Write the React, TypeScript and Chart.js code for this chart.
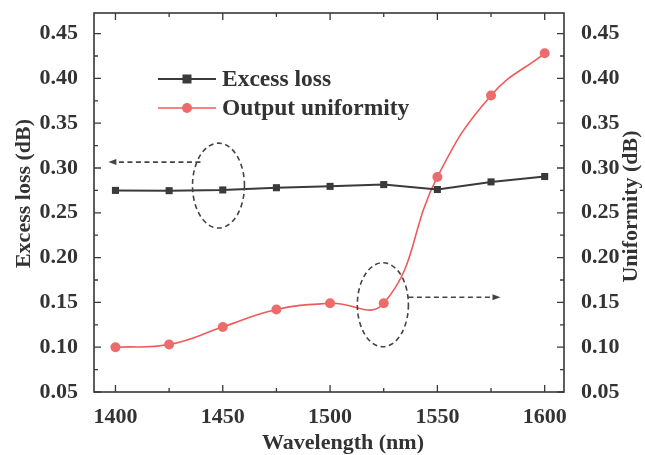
import React, { useEffect, useRef } from "react";
import { Chart, registerables } from "chart.js";

Chart.register(...registerables);

const wavelengths = [1400, 1425, 1450, 1475, 1500, 1525, 1550, 1575, 1600];
const excessLoss = [0.275, 0.2747, 0.2755, 0.278, 0.2795, 0.2815, 0.276, 0.2845, 0.2905];
const uniformity = [0.1, 0.103, 0.1225, 0.142, 0.149, 0.149, 0.29, 0.381, 0.428];

const xMajorTicks = [1400, 1450, 1500, 1550, 1600];
const xMinorTicks = [1425, 1475, 1525, 1575];
const yMajorTicks = [0.05, 0.1, 0.15, 0.2, 0.25, 0.3, 0.35, 0.4, 0.45];
const yMinorTicks = [0.075, 0.125, 0.175, 0.225, 0.275, 0.325, 0.375, 0.425];

const seriesNames = ["Excess loss", "Output uniformity"];
const axisTitles = { x: "Wavelength (nm)", left: "Excess loss (dB)", right: "Uniformity (dB)" };

// annotation ellipses: [centerX, centerY, radiusX (nm), radiusY (dB)]
const ellipseLeft = [1448, 0.2804, 12.1, 0.0474];
const ellipseRight = [1524.6, 0.1474, 11.9, 0.0469];
// arrows: [fromX, toX, y]
const arrowLeft = [1439.6, 1396.7, 0.3066];
const arrowRight = [1536.5, 1579.4, 0.1557];

const BLACK = "#3a3a3a";
const RED = "#f05a5a";
const RED_FILL = "#ec6b6b";
const TEXT = "#333333";
const FAMILY = "'Liberation Serif', 'Times New Roman', serif";
const FONT = "bold 22px " + FAMILY;
const LEGEND_FONT = "bold 23.5px " + FAMILY;

const overlay = {
  id: "overlay",
  afterDatasetsDraw(chart: any) {
    const { ctx, chartArea: a, scales } = chart;
    const xs = scales.x;
    const ys = scales.y;
    ctx.save();
    // frame
    ctx.strokeStyle = "#383838";
    ctx.lineWidth = 1.6;
    ctx.setLineDash([]);
    ctx.strokeRect(a.left, a.top, a.right - a.left, a.bottom - a.top);
    // inside ticks
    ctx.lineWidth = 1.3;
    const tick = (vals: number[], len: number, isX: boolean) => {
      vals.forEach((v) => {
        ctx.beginPath();
        if (isX) {
          const px = xs.getPixelForValue(v);
          ctx.moveTo(px, a.bottom);
          ctx.lineTo(px, a.bottom - len);
          ctx.moveTo(px, a.top);
          ctx.lineTo(px, a.top + len);
        } else {
          const py = ys.getPixelForValue(v);
          ctx.moveTo(a.left, py);
          ctx.lineTo(a.left + len, py);
          ctx.moveTo(a.right, py);
          ctx.lineTo(a.right - len, py);
        }
        ctx.stroke();
      });
    };
    tick(xMajorTicks, 7, true);
    tick(xMinorTicks, 4, true);
    tick(yMajorTicks, 7, false);
    tick(yMinorTicks, 4, false);

    // ellipses and arrows
    ctx.strokeStyle = "#444";
    ctx.lineWidth = 1.6;
    ctx.setLineDash([5, 3.5]);
    const ell = (e: number[]) => {
      const cx = xs.getPixelForValue(e[0]);
      const cy = ys.getPixelForValue(e[1]);
      const rx = Math.abs(xs.getPixelForValue(e[0] + e[2]) - cx);
      const ry = Math.abs(ys.getPixelForValue(e[1] + e[3]) - cy);
      ctx.beginPath();
      ctx.ellipse(cx, cy, rx, ry, 0, 0, Math.PI * 2);
      ctx.stroke();
    };
    ell(ellipseLeft);
    ell(ellipseRight);
    const arrow = (ar: number[]) => {
      const x1 = xs.getPixelForValue(ar[0]);
      const x2 = xs.getPixelForValue(ar[1]);
      const y = ys.getPixelForValue(ar[2]);
      const dir = Math.sign(x2 - x1);
      ctx.setLineDash([5, 3.5]);
      ctx.beginPath();
      ctx.moveTo(x1, y);
      ctx.lineTo(x2 - dir * 4, y);
      ctx.stroke();
      ctx.setLineDash([]);
      ctx.fillStyle = "#444";
      ctx.beginPath();
      ctx.moveTo(x2, y);
      ctx.lineTo(x2 - dir * 8, y - 3);
      ctx.lineTo(x2 - dir * 8, y + 3);
      ctx.closePath();
      ctx.fill();
    };
    arrow(arrowLeft);
    arrow(arrowRight);

    // legend
    ctx.setLineDash([]);
    const lx1 = a.left + 64;
    const lx2 = a.left + 122;
    const rows = [a.top + 66, a.top + 95];
    ctx.font = LEGEND_FONT;
    ctx.textBaseline = "middle";
    ctx.textAlign = "left";
    rows.forEach((ry, i) => {
      ctx.strokeStyle = i === 0 ? BLACK : RED;
      ctx.lineWidth = i === 0 ? 2 : 1.6;
      ctx.beginPath();
      ctx.moveTo(lx1, ry);
      ctx.lineTo(lx2, ry);
      ctx.stroke();
      const mx = (lx1 + lx2) / 2;
      if (i === 0) {
        ctx.fillStyle = BLACK;
        ctx.fillRect(mx - 4.5, ry - 4.5, 9, 9);
      } else {
        ctx.fillStyle = RED_FILL;
        ctx.beginPath();
        ctx.arc(mx, ry, 5, 0, Math.PI * 2);
        ctx.fill();
      }
      ctx.fillStyle = TEXT;
      ctx.fillText(seriesNames[i], lx2 + 6, ry + 1);
    });

    // axis titles
    ctx.fillStyle = TEXT;
    ctx.font = FONT;
    ctx.textAlign = "center";
    ctx.textBaseline = "middle";
    ctx.fillText(axisTitles.x, (a.left + a.right) / 2 + 14, a.bottom + 51);
    ctx.save();
    ctx.translate(24, (a.top + a.bottom) / 2 - 9);
    ctx.rotate(-Math.PI / 2);
    ctx.fillText(axisTitles.left, 0, 0);
    ctx.restore();
    ctx.save();
    ctx.translate(a.right + 67, (a.top + a.bottom) / 2 + 4);
    ctx.rotate(-Math.PI / 2);
    ctx.fillText(axisTitles.right, 0, 0);
    ctx.restore();
    ctx.restore();
  },
};

const noPad = (s: any) => {
  s.paddingTop = 0;
  s.paddingBottom = 0;
  s.paddingLeft = 0;
  s.paddingRight = 0;
};

export default function App() {
  const ref = useRef<HTMLCanvasElement | null>(null);
  useEffect(() => {
    if (!ref.current) return;
    const tickFont = { family: FAMILY, size: 22, weight: "bold" as const };
    const chart = new Chart(ref.current, {
      type: "line",
      data: {
        datasets: [
          {
            label: seriesNames[0],
            data: wavelengths.map((w, i) => ({ x: w, y: excessLoss[i] })),
            borderColor: BLACK,
            backgroundColor: BLACK,
            borderWidth: 2,
            pointStyle: "rect",
            pointRadius: 5,
            pointBorderWidth: 0,
            tension: 0,
            yAxisID: "y",
          },
          {
            label: seriesNames[1],
            data: wavelengths.map((w, i) => ({ x: w, y: uniformity[i] })),
            borderColor: RED,
            backgroundColor: RED_FILL,
            borderWidth: 1.6,
            pointStyle: "circle",
            pointRadius: 5,
            pointBorderWidth: 0,
            tension: 0.45,
            yAxisID: "y1",
          },
        ],
      },
      options: {
        responsive: false,
        animation: false,
        layout: { padding: { top: 13, left: 0, right: 0, bottom: 0 } },
        plugins: { legend: { display: false }, tooltip: { enabled: false } },
        scales: {
          x: {
            type: "linear",
            min: 1390,
            max: 1609,
            grid: { display: false },
            border: { display: false },
            afterBuildTicks: (s: any) => {
              s.ticks = xMajorTicks.map((v) => ({ value: v }));
            },
            afterFit: (s: any) => {
              s.height = 63;
              noPad(s);
            },
            ticks: { color: TEXT, font: tickFont, padding: 4, maxRotation: 0, callback: (v: any) => String(v) },
          },
          y: {
            type: "linear",
            position: "left",
            min: 0.05,
            max: 0.473,
            grid: { display: false },
            border: { display: false },
            afterBuildTicks: (s: any) => {
              s.ticks = yMajorTicks.map((v) => ({ value: v }));
            },
            afterFit: (s: any) => {
              s.width = 94;
              noPad(s);
            },
            ticks: { color: TEXT, font: tickFont, padding: 8, callback: (v: any) => Number(v).toFixed(2) },
          },
          y1: {
            type: "linear",
            position: "right",
            min: 0.05,
            max: 0.473,
            grid: { display: false },
            border: { display: false },
            afterBuildTicks: (s: any) => {
              s.ticks = yMajorTicks.map((v) => ({ value: v }));
            },
            afterFit: (s: any) => {
              s.width = 81;
              noPad(s);
            },
            ticks: { color: TEXT, font: tickFont, padding: 9, callback: (v: any) => Number(v).toFixed(2) },
          },
        },
      },
      plugins: [overlay],
    } as any);
    return () => chart.destroy();
  }, []);
  return (
    <div style={{ position: "fixed", left: 0, top: 0, width: 645, height: 455, background: "#fff" }}>
      <canvas ref={ref} width={645} height={455} style={{ display: "block" }} />
    </div>
  );
}
